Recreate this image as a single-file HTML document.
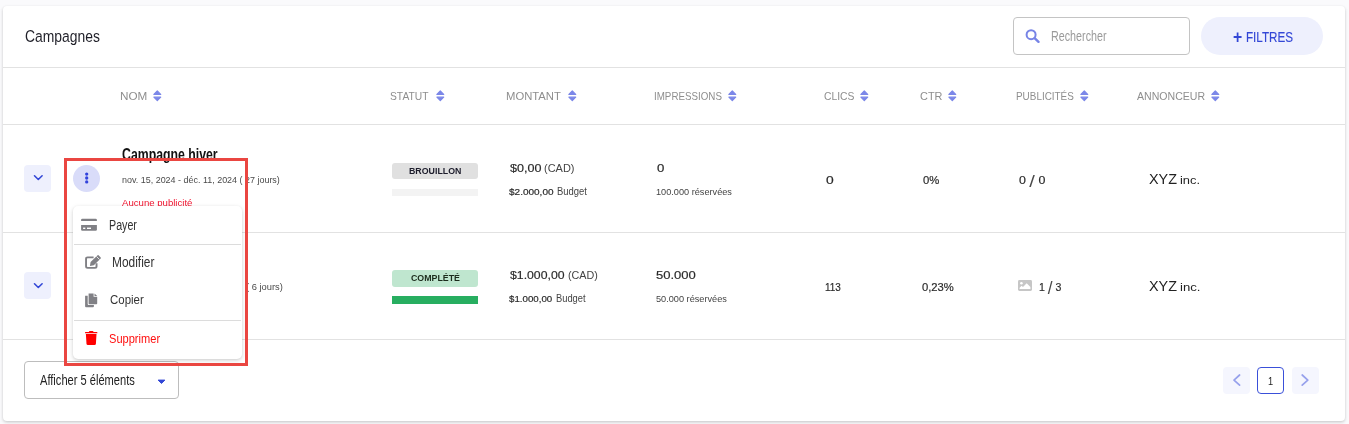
<!DOCTYPE html>
<html lang="fr">
<head>
<meta charset="utf-8">
<title>Campagnes</title>
<style>
*{box-sizing:border-box;margin:0;padding:0}
html,body{width:1349px;height:424px;overflow:hidden;background:#fafafc;font-family:"Liberation Sans",sans-serif;color:#222}
.abs{position:absolute}
.t{position:absolute;white-space:nowrap;line-height:1;transform-origin:0 50%}
#card{position:absolute;left:3px;top:6px;width:1342px;height:415px;background:#fff;border-radius:4px;box-shadow:0 1px 3px rgba(0,0,0,.16),0 2px 4px rgba(0,0,0,.06)}
.hl{position:absolute;left:3px;width:1342px;height:1px;background:#e2e2e2}
.sort{position:absolute;top:90px;width:9px;height:12px}
.exp{position:absolute;left:24px;width:27px;height:27px;border-radius:4px;background:#eef0fd}
.badge{position:absolute;left:392px;width:86px;border-radius:3px}
.bar{position:absolute;left:392px;width:86px}
.pgb{position:absolute;top:367px;width:27px;height:27px;border-radius:4px;background:#f5f6fe}
#menu{position:absolute;left:73px;top:206px;width:169px;height:153px;background:#fff;border-radius:5px;box-shadow:0 1px 3px rgba(0,0,0,.13),0 2px 6px rgba(0,0,0,.09)}
.ms{position:absolute;left:74px;width:167px;height:1px;background:#dcdcdc}
#redbox{position:absolute;left:64px;top:158px;width:184px;height:208px;border:3px solid #ea4641}
.sl{font-size:1.62em;line-height:0;position:relative;top:.2em;-webkit-text-stroke:0;color:#4a4a4a}
</style>
</head>
<body>
<div id="card"></div>
<div class="hl" style="top:67px"></div>
<div class="hl" style="top:124px"></div>
<div class="hl" style="top:232px"></div>
<div class="hl" style="top:339px"></div>

<!-- search box -->
<div class="abs" style="left:1013px;top:17px;width:177px;height:38px;border:1px solid #c4c4c4;border-radius:4px;background:#fff"></div>
<svg class="abs" style="left:1025px;top:29px" width="15" height="15" viewBox="0 0 15 15"><circle cx="6.1" cy="5.7" r="4.5" fill="none" stroke="#7784e6" stroke-width="2"/><path d="M9.6 9.1 L13.5 12.8" stroke="#7784e6" stroke-width="2.4" stroke-linecap="round"/></svg>
<!-- filtres button -->
<div class="abs" style="left:1201px;top:17px;width:122px;height:38px;border-radius:19px;background:#eef0fd"></div>

<!-- sort icons -->
<svg class="sort" style="left:152.5px" viewBox="0 0 9 12"><path d="M0.9 4.5 L4.3 0.9 L7.7 4.5 Z M0.9 7.2 L7.7 7.2 L4.3 10.6 Z" fill="#7b87e8" stroke="#7b87e8" stroke-width="1.2" stroke-linejoin="round"/></svg>
<svg class="sort" style="left:435.5px" viewBox="0 0 9 12"><path d="M0.9 4.5 L4.3 0.9 L7.7 4.5 Z M0.9 7.2 L7.7 7.2 L4.3 10.6 Z" fill="#7b87e8" stroke="#7b87e8" stroke-width="1.2" stroke-linejoin="round"/></svg>
<svg class="sort" style="left:567.5px" viewBox="0 0 9 12"><path d="M0.9 4.5 L4.3 0.9 L7.7 4.5 Z M0.9 7.2 L7.7 7.2 L4.3 10.6 Z" fill="#7b87e8" stroke="#7b87e8" stroke-width="1.2" stroke-linejoin="round"/></svg>
<svg class="sort" style="left:727.5px" viewBox="0 0 9 12"><path d="M0.9 4.5 L4.3 0.9 L7.7 4.5 Z M0.9 7.2 L7.7 7.2 L4.3 10.6 Z" fill="#7b87e8" stroke="#7b87e8" stroke-width="1.2" stroke-linejoin="round"/></svg>
<svg class="sort" style="left:859.5px" viewBox="0 0 9 12"><path d="M0.9 4.5 L4.3 0.9 L7.7 4.5 Z M0.9 7.2 L7.7 7.2 L4.3 10.6 Z" fill="#7b87e8" stroke="#7b87e8" stroke-width="1.2" stroke-linejoin="round"/></svg>
<svg class="sort" style="left:947.5px" viewBox="0 0 9 12"><path d="M0.9 4.5 L4.3 0.9 L7.7 4.5 Z M0.9 7.2 L7.7 7.2 L4.3 10.6 Z" fill="#7b87e8" stroke="#7b87e8" stroke-width="1.2" stroke-linejoin="round"/></svg>
<svg class="sort" style="left:1079.5px" viewBox="0 0 9 12"><path d="M0.9 4.5 L4.3 0.9 L7.7 4.5 Z M0.9 7.2 L7.7 7.2 L4.3 10.6 Z" fill="#7b87e8" stroke="#7b87e8" stroke-width="1.2" stroke-linejoin="round"/></svg>
<svg class="sort" style="left:1210.5px" viewBox="0 0 9 12"><path d="M0.9 4.5 L4.3 0.9 L7.7 4.5 Z M0.9 7.2 L7.7 7.2 L4.3 10.6 Z" fill="#7b87e8" stroke="#7b87e8" stroke-width="1.2" stroke-linejoin="round"/></svg>

<!-- row expanders -->
<div class="exp" style="top:165px"></div>
<svg class="abs" style="left:32px;top:173px" width="12" height="10" viewBox="0 0 12 10"><path d="M2.5 2.8 L6.3 6.5 L10.1 2.8" fill="none" stroke="#3347d6" stroke-width="1.6" stroke-linecap="round" stroke-linejoin="round"/></svg>
<div class="exp" style="top:272px"></div>
<svg class="abs" style="left:32px;top:281px" width="12" height="10" viewBox="0 0 12 10"><path d="M2.5 2.8 L6.3 6.5 L10.1 2.8" fill="none" stroke="#3347d6" stroke-width="1.6" stroke-linecap="round" stroke-linejoin="round"/></svg>

<!-- kebab button -->
<div class="abs" style="left:73px;top:165px;width:27px;height:27px;border-radius:50%;background:#d9dcf9"></div>
<svg class="abs" style="left:83px;top:171px" width="8" height="14" viewBox="0 0 8 14"><circle cx="3.7" cy="3.1" r="1.65" fill="#3142dc"/><circle cx="3.7" cy="7" r="1.65" fill="#3142dc"/><circle cx="3.7" cy="10.9" r="1.65" fill="#3142dc"/></svg>

<!-- status badges + progress -->
<div class="badge" style="top:163px;height:16px;background:#e0e0e0"></div>
<div class="bar" style="top:189px;height:7px;background:#f3f3f3"></div>
<div class="badge" style="top:270px;height:17px;background:#bfe6cf"></div>
<div class="bar" style="top:296px;height:8px;background:#27ae60"></div>

<!-- image icon row 2 -->
<svg class="abs" style="left:1018px;top:280px" width="14" height="11" viewBox="0 0 14 10.5" preserveAspectRatio="none"><rect x="0" y="0" width="14" height="10.5" rx="1.4" fill="#c6c6c6"/><circle cx="3.4" cy="3.1" r="1.3" fill="#fff"/><path d="M1.6 8.7 L1.6 7.4 L3.6 5.4 L5 6.8 L8.7 3.1 L12.4 6.8 L12.4 8.7 Z" fill="#fff"/></svg>

<!-- footer select -->
<div class="abs" style="left:24px;top:361px;width:155px;height:38px;border:1px solid #bdbdbd;border-radius:4px;background:#fff"></div>
<svg class="abs" style="left:157px;top:379px" width="9" height="6" viewBox="0 0 9 6"><path d="M1.1 1.1 L7.9 1.1 L4.5 4.4 Z" fill="#3347d6" stroke="#3347d6" stroke-width="1" stroke-linejoin="round"/></svg>

<!-- pagination -->
<div class="pgb" style="left:1223px"></div>
<svg class="abs" style="left:1231px;top:373px" width="12" height="14" viewBox="0 0 12 14"><path d="M8.6 2 L3 7.1 L8.6 12.2" fill="none" stroke="#97a1ec" stroke-width="1.7" stroke-linecap="round" stroke-linejoin="round"/></svg>
<div class="abs" style="left:1257px;top:367px;width:27px;height:27px;border:1.5px solid #3a50d9;border-radius:4px;background:#fff"></div>
<div class="pgb" style="left:1292px"></div>
<svg class="abs" style="left:1299px;top:373px" width="12" height="14" viewBox="0 0 12 14"><path d="M3.2 2 L8.8 7.1 L3.2 12.2" fill="none" stroke="#97a1ec" stroke-width="1.7" stroke-linecap="round" stroke-linejoin="round"/></svg>

<div class="t" id="title" style="left:24.8px;top:29.0px;font-size:16.67px;color:#1f1f28;transform:scaleX(0.8338);">Campagnes</div>
<div class="t" id="srch" style="left:1051.4px;top:28.4px;font-size:15.36px;color:#9a9a9a;transform:scaleX(0.7001);">Rechercher</div>
<div class="t" id="plus" style="left:1233.1px;top:27.6px;font-size:18.00px;color:#3347d6;font-weight:700;transform:scaleX(0.8749);">+</div>
<div class="t" id="filt" style="left:1246.0px;top:29.2px;font-size:15.07px;color:#3347d6;-webkit-text-stroke:0.15px #3347d6;transform:scaleX(0.7742);">FILTRES</div>
<div class="t" id="h1" style="left:119.6px;top:90.9px;font-size:11.01px;color:#8e8e8e;transform:scaleX(1.0648);">NOM</div>
<div class="t" id="h2" style="left:389.7px;top:90.9px;font-size:11.01px;color:#8e8e8e;transform:scaleX(0.9351);">STATUT</div>
<div class="t" id="h3" style="left:506.0px;top:90.9px;font-size:11.01px;color:#8e8e8e;transform:scaleX(1.0239);">MONTANT</div>
<div class="t" id="h4" style="left:654.0px;top:90.9px;font-size:11.01px;color:#8e8e8e;transform:scaleX(0.8895);">IMPRESSIONS</div>
<div class="t" id="h5" style="left:823.6px;top:90.9px;font-size:11.01px;color:#8e8e8e;transform:scaleX(0.9410);">CLICS</div>
<div class="t" id="h6" style="left:920.1px;top:90.9px;font-size:11.01px;color:#8e8e8e;transform:scaleX(0.9919);">CTR</div>
<div class="t" id="h7" style="left:1015.6px;top:90.9px;font-size:11.01px;color:#8e8e8e;transform:scaleX(0.9010);">PUBLICITÉS</div>
<div class="t" id="h8" style="left:1136.8px;top:90.9px;font-size:11.01px;color:#8e8e8e;transform:scaleX(0.9603);">ANNONCEUR</div>
<div class="t" id="r1n" style="left:122.3px;top:146.0px;font-size:16.09px;color:#111;font-weight:700;transform:scaleX(0.7646);">Campagne hiver</div>
<div class="t" id="r1d" style="left:121.6px;top:176.3px;font-size:9.28px;color:#4a4a4a;transform:scaleX(0.9656);">nov. 15, 2024 - déc. 11, 2024 ( 27 jours)</div>
<div class="t" id="r1a" style="left:122.0px;top:197.7px;font-size:9.57px;color:#f0142f;transform:scaleX(1.0038);">Aucune publicité</div>
<div class="t" id="r1b" style="left:409.1px;top:165.8px;font-size:9.71px;color:#1c1c2b;font-weight:700;transform:scaleX(0.9076);">BROUILLON</div>
<div class="t" id="r1m1" style="left:509.8px;top:162.8px;font-size:10.87px;color:#2a2a2a;-webkit-text-stroke:0.18px #2a2a2a;transform:scaleX(1.1574);">$0,00</div>
<div class="t" id="r1m2" style="left:543.9px;top:163.4px;font-size:11.30px;color:#444;transform:scaleX(0.9719);">(CAD)</div>
<div class="t" id="r1g1" style="left:509.0px;top:188.1px;font-size:8.99px;color:#2a2a2a;-webkit-text-stroke:0.18px #2a2a2a;transform:scaleX(1.1140);">$2.000,00</div>
<div class="t" id="r1g2" style="left:557.1px;top:185.8px;font-size:10.58px;color:#444;transform:scaleX(0.8931);">Budget</div>
<div class="t" id="r1i" style="left:656.5px;top:163.9px;font-size:10.00px;color:#2a2a2a;-webkit-text-stroke:0.18px #2a2a2a;transform:scaleX(1.3185);">0</div>
<div class="t" id="r1r" style="left:656.1px;top:186.5px;font-size:9.86px;color:#444;transform:scaleX(0.9313);">100.000 réservées</div>
<div class="t" id="r1c" style="left:825.9px;top:175.7px;font-size:10.00px;color:#2a2a2a;-webkit-text-stroke:0.18px #2a2a2a;transform:scaleX(1.3818);">0</div>
<div class="t" id="r1t" style="left:922.6px;top:174.6px;font-size:11.16px;color:#2a2a2a;-webkit-text-stroke:0.18px #2a2a2a;transform:scaleX(1.0117);">0%</div>
<div class="t" id="r1p" style="left:1018.7px;top:174.9px;font-size:10.72px;color:#2a2a2a;-webkit-text-stroke:0.18px #2a2a2a;transform:scaleX(1.1571);">0 <span class="sl">/</span> 0</div>
<div class="t" id="r1x" style="left:1149.3px;top:171.7px;font-size:14.78px;color:#222;transform:scaleX(0.9735);">XYZ</div>
<div class="t" id="r1y" style="left:1179.9px;top:174.6px;font-size:10.58px;color:#222;transform:scaleX(1.2157);">inc.</div>
<div class="t" id="r2j" style="left:245.6px;top:281.9px;font-size:9.42px;color:#4a4a4a;transform:scaleX(0.9911);">( 6 jours)</div>
<div class="t" id="r2b" style="left:411.1px;top:273.1px;font-size:9.71px;color:#1c2b1c;font-weight:700;transform:scaleX(0.9068);">COMPLÉTÉ</div>
<div class="t" id="r2m1" style="left:509.8px;top:269.8px;font-size:11.16px;color:#2a2a2a;-webkit-text-stroke:0.18px #2a2a2a;transform:scaleX(1.0985);">$1.000,00</div>
<div class="t" id="r2m2" style="left:567.8px;top:270.2px;font-size:11.59px;color:#444;transform:scaleX(0.9286);">(CAD)</div>
<div class="t" id="r2g1" style="left:509.1px;top:294.9px;font-size:8.99px;color:#2a2a2a;-webkit-text-stroke:0.18px #2a2a2a;transform:scaleX(1.0811);">$1.000,00</div>
<div class="t" id="r2g2" style="left:555.9px;top:293.0px;font-size:10.58px;color:#444;transform:scaleX(0.8830);">Budget</div>
<div class="t" id="r2i" style="left:656.0px;top:269.6px;font-size:11.01px;color:#2a2a2a;-webkit-text-stroke:0.18px #2a2a2a;transform:scaleX(1.1847);">50.000</div>
<div class="t" id="r2r" style="left:655.9px;top:294.1px;font-size:9.71px;color:#444;transform:scaleX(0.9456);">50.000 réservées</div>
<div class="t" id="r2c" style="left:825.0px;top:281.9px;font-size:10.87px;color:#2a2a2a;-webkit-text-stroke:0.18px #2a2a2a;transform:scaleX(0.9151);">113</div>
<div class="t" id="r2t" style="left:922.3px;top:281.6px;font-size:11.16px;color:#2a2a2a;-webkit-text-stroke:0.18px #2a2a2a;transform:scaleX(1.0065);">0,23%</div>
<div class="t" id="r2p" style="left:1038.8px;top:281.8px;font-size:10.87px;color:#2a2a2a;-webkit-text-stroke:0.18px #2a2a2a;transform:scaleX(0.9733);">1 <span class="sl">/</span> 3</div>
<div class="t" id="r2x" style="left:1149.3px;top:279.4px;font-size:14.93px;color:#222;transform:scaleX(0.9626);">XYZ</div>
<div class="t" id="r2y" style="left:1179.5px;top:281.9px;font-size:10.72px;color:#222;transform:scaleX(1.2260);">inc.</div>
<div class="t" id="aff" style="left:39.8px;top:373.5px;font-size:13.77px;color:#222;transform:scaleX(0.8062);">Afficher 5 éléments</div>
<div class="t" id="pg" style="left:1268.1px;top:375.6px;font-size:11.59px;color:#222;transform:scaleX(0.7957);">1</div>

<!-- dropdown menu -->
<div id="menu"></div>
<div class="ms" style="top:244px"></div>
<div class="ms" style="top:320px"></div>
<!-- credit card -->
<svg class="abs" style="left:81px;top:218px" width="16" height="13.5" viewBox="0 0 16 13.5"><path d="M0.1 2.9 V1.9 Q0.1 0.7 1.3 0.7 H14.7 Q15.9 0.7 15.9 1.9 V2.9 Z" fill="#808085"/><path d="M0.1 6.9 H15.9 V11.5 Q15.9 12.7 14.7 12.7 H1.3 Q0.1 12.7 0.1 11.5 Z" fill="#808085"/><rect x="2.1" y="9.6" width="2.2" height="1.4" fill="#fff"/><rect x="6" y="9.6" width="4" height="1.4" fill="#fff"/></svg>
<!-- edit -->
<svg class="abs" style="left:85px;top:254px" width="17" height="16" viewBox="0 0 17 16"><path d="M8.6 3.35 H2.6 Q1.05 3.35 1.05 4.9 V12.3 Q1.05 13.85 2.6 13.85 H10 Q11.55 13.85 11.55 12.3 V9.2" fill="none" stroke="#808085" stroke-width="1.9" stroke-linecap="butt"/><g transform="translate(0.6,0.7)"><path d="M12.0 0.5 Q12.5 0.1 13 0.6 L15.1 2.7 Q15.6 3.2 15.1 3.7 L8.2 10.5 L4.3 11.4 L5.0 7.4 Z" fill="#808085"/><path d="M10.9 1.8 L13.9 4.8" stroke="#fff" stroke-width="0.8"/></g></svg>
<!-- copy -->
<svg class="abs" style="left:85px;top:292.5px" width="13" height="15" viewBox="0 0 13 15"><path d="M3.6 0.5 H8.6 V3.7 H12.2 V10.4 Q12.2 11.2 11.4 11.2 H4.4 Q3.6 11.2 3.6 10.4 Z" fill="#808085"/><path d="M9.5 0.5 L12.2 2.9 H9.5 Z" fill="#808085"/><path d="M0.1 2.8 H2.7 V11 Q2.7 12.1 3.8 12.1 H8.9 V13.3 Q8.9 14.2 8 14.2 H1 Q0.1 14.2 0.1 13.3 Z" fill="#808085"/></svg>
<!-- trash -->
<svg class="abs" style="left:85px;top:331px" width="13" height="14" viewBox="0 0 13 14"><path d="M0 1.6 Q0 1 0.6 1 H3.8 L4.2 0.3 Q4.4 0 4.8 0 H7.6 Q8 0 8.2 0.3 L8.6 1 H11.8 Q12.4 1 12.4 1.6 V2.3 H0 Z" fill="#ff0000"/><path d="M0.9 3.0 H11.5 L10.9 12.7 Q10.8 13.9 9.6 13.9 H2.8 Q1.6 13.9 1.5 12.7 Z" fill="#ff0000"/></svg>
<div class="t" id="m1" style="left:108.8px;top:217.5px;font-size:14.49px;color:#333;transform:scaleX(0.7381);">Payer</div>
<div class="t" id="m2" style="left:111.8px;top:254.2px;font-size:15.07px;color:#333;transform:scaleX(0.7920);">Modifier</div>
<div class="t" id="m3" style="left:109.7px;top:293.1px;font-size:13.48px;color:#333;transform:scaleX(0.8497);">Copier</div>
<div class="t" id="m4" style="left:109.2px;top:332.1px;font-size:13.62px;color:#ff1010;transform:scaleX(0.8138);">Supprimer</div>

<div id="redbox"></div>
</body>
</html>
